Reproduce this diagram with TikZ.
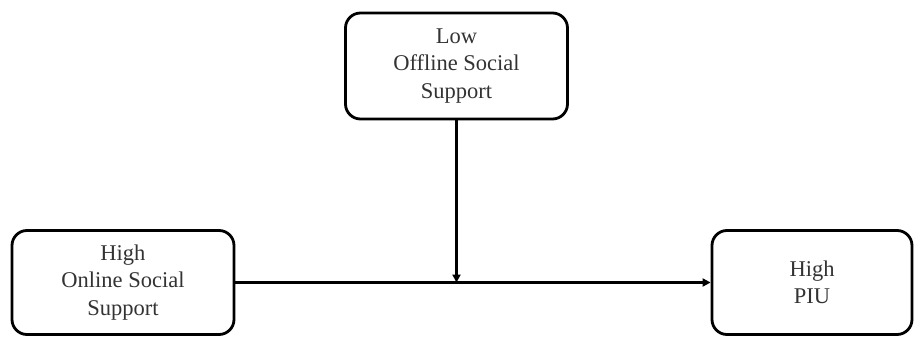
\documentclass[tikz,border=0pt]{standalone}
\usepackage{fontspec}
\setmainfont{Liberation Serif}
\usetikzlibrary{arrows.meta}

\begin{document}
\begin{tikzpicture}[>={Triangle[length=8pt,width=8pt]},line cap=round,
  x=1pt,y=1pt,
  box/.style={draw,line width=2.8pt,rounded corners=15pt,align=center,inner sep=0pt,
    font=\fontsize{22.5}{27.5}\selectfont,text=black!80},
  link/.style={->,line width=2.4pt}]
\useasboundingbox (0,0) rectangle (922,338);
\node[box,minimum width=222,minimum height=106] (offline) at (456.5,272) {Low\\Offline Social\\Support};
\node[box,minimum width=222,minimum height=104] (online) at (123,55.5) {High\\Online Social\\Support};
\node[box,minimum width=200,minimum height=104] (piu) at (812,55.5) {High\\PIU};
\coordinate (meet) at (offline.south |- online.east);
\draw[link] (online.east) -- (piu.west);
\draw[link] (offline.south) -- (meet);
\end{tikzpicture}
\end{document}
